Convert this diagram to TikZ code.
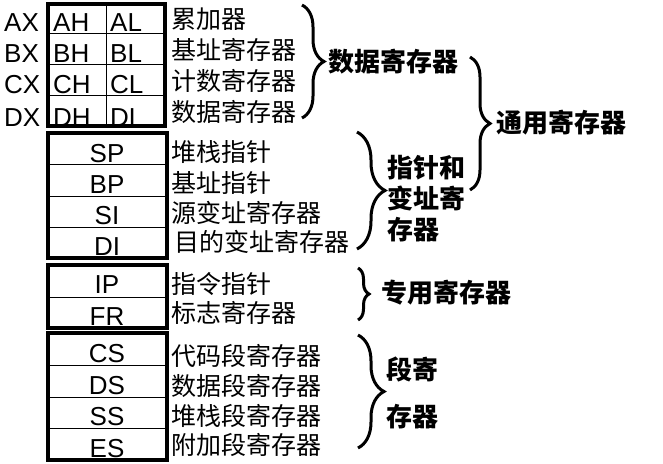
\documentclass[tikz,border=0pt]{standalone}
\usepackage{fontspec}
\setmainfont{Liberation Sans}
\newfontfamily\cjk{Noto Sans CJK SC}
\usetikzlibrary{decorations.pathreplacing}
\begin{document}
\begin{tikzpicture}[x=1pt,y=-1pt,
  regbox/.style={line width=4pt},
  cellline/.style={line width=1pt},
  reg/.style={font=\fontsize{26}{26}\selectfont, inner sep=0pt, anchor=base},
  regw/.style={reg, anchor=base west},
  lab/.style={font=\cjk\fontsize{25}{25}\selectfont, inner sep=0pt, anchor=west},
  grp/.style={font=\cjk\bfseries\fontsize{26}{31}\selectfont, inner sep=0pt, anchor=west, align=left},
  brc/.style={decorate, decoration={brace, amplitude=#1}, line width=3pt}]
\useasboundingbox (0,0) rectangle (663,463);

% ---- data registers: AX..DX split into high/low halves
\draw[cellline] (48,33) -- (165,33) (48,64) -- (165,64) (48,95) -- (165,95) (106,4) -- (106,126);
\draw[regbox] (48,4) rectangle (165,126);
\foreach \r/\b in {A/31, B/62, C/93, D/126} {
  \node[regw] (\r X) at (4,\b) {\r X};
  \node[regw] (\r H) at (53,\b) {\r H};
  \node[regw] (\r L) at (110,\b) {\r L};
}
\node[lab] (acc) at (171,19) {累加器};
\node[lab] (bas) at (171,50) {基址寄存器};
\node[lab] (cnt) at (171,81) {计数寄存器};
\node[lab] (dat) at (171,112) {数据寄存器};

% ---- pointer and index registers
\draw[cellline] (48,164.5) -- (167,164.5) (48,196) -- (167,196) (48,227) -- (167,227);
\draw[regbox] (48,133) rectangle (167,258);
\node[reg] (SP) at (107,162) {SP};
\node[reg] (BP) at (107,193) {BP};
\node[reg] (SI) at (107,224) {SI};
\node[reg] (DI) at (107,255) {DI};
\node[lab] (sp) at (171,152) {堆栈指针};
\node[lab] (bp) at (171,183) {基址指针};
\node[lab] (si) at (171,213) {源变址寄存器};
\node[lab] (di) at (174,242) {目的变址寄存器};

% ---- special purpose registers
\draw[cellline] (48,297) -- (167,297);
\draw[regbox] (48,265) rectangle (167,328);
\node[reg] (IP) at (107,293) {IP};
\node[reg] (FR) at (107,325) {FR};
\node[lab] (ip) at (171,284) {指令指针};
\node[lab] (fr) at (171,313) {标志寄存器};

% ---- segment registers
\draw[cellline] (48,365) -- (167,365) (48,397) -- (167,397) (48,428) -- (167,428);
\draw[regbox] (48,333) rectangle (167,460);
\node[reg] (CS) at (107,362) {CS};
\node[reg] (DS) at (107,394) {DS};
\node[reg] (SS) at (107,425) {SS};
\node[reg] (ES) at (107,457) {ES};
\node[lab] (cs) at (171,356) {代码段寄存器};
\node[lab] (ds) at (171,386) {数据段寄存器};
\node[lab] (ss) at (171,416) {堆栈段寄存器};
\node[lab] (es) at (171,445) {附加段寄存器};

% ---- braces and group names
\coordinate (b1t) at (302,5);   \coordinate (b1b) at (302,118);
\coordinate (b2t) at (470,57);  \coordinate (b2b) at (470,190);
\coordinate (b3t) at (357,132); \coordinate (b3b) at (357,249);
\coordinate (b4t) at (358,268); \coordinate (b4b) at (358,320);
\coordinate (b5t) at (358,335); \coordinate (b5b) at (358,448);
\draw[brc=22pt] (b1t) -- (b1b);
\draw[brc=20pt] (b2t) -- (b2b);
\draw[brc=28pt] (b3t) -- (b3b);
\draw[brc=11pt] (b4t) -- (b4b);
\draw[brc=26pt] (b5t) -- (b5b);
\node[grp] (g1) at (328,62) {数据寄存器};
\node[grp] (g2) at (496,123) {通用寄存器};
\node[grp] (g3) at (387,199) {指针和\\变址寄\\存器};
\node[grp] (g4) at (381,293) {专用寄存器};
\node[grp, font=\cjk\bfseries\fontsize{26}{47}\selectfont] (g5) at (386,393) {段寄\\存器};
\end{tikzpicture}
\end{document}
